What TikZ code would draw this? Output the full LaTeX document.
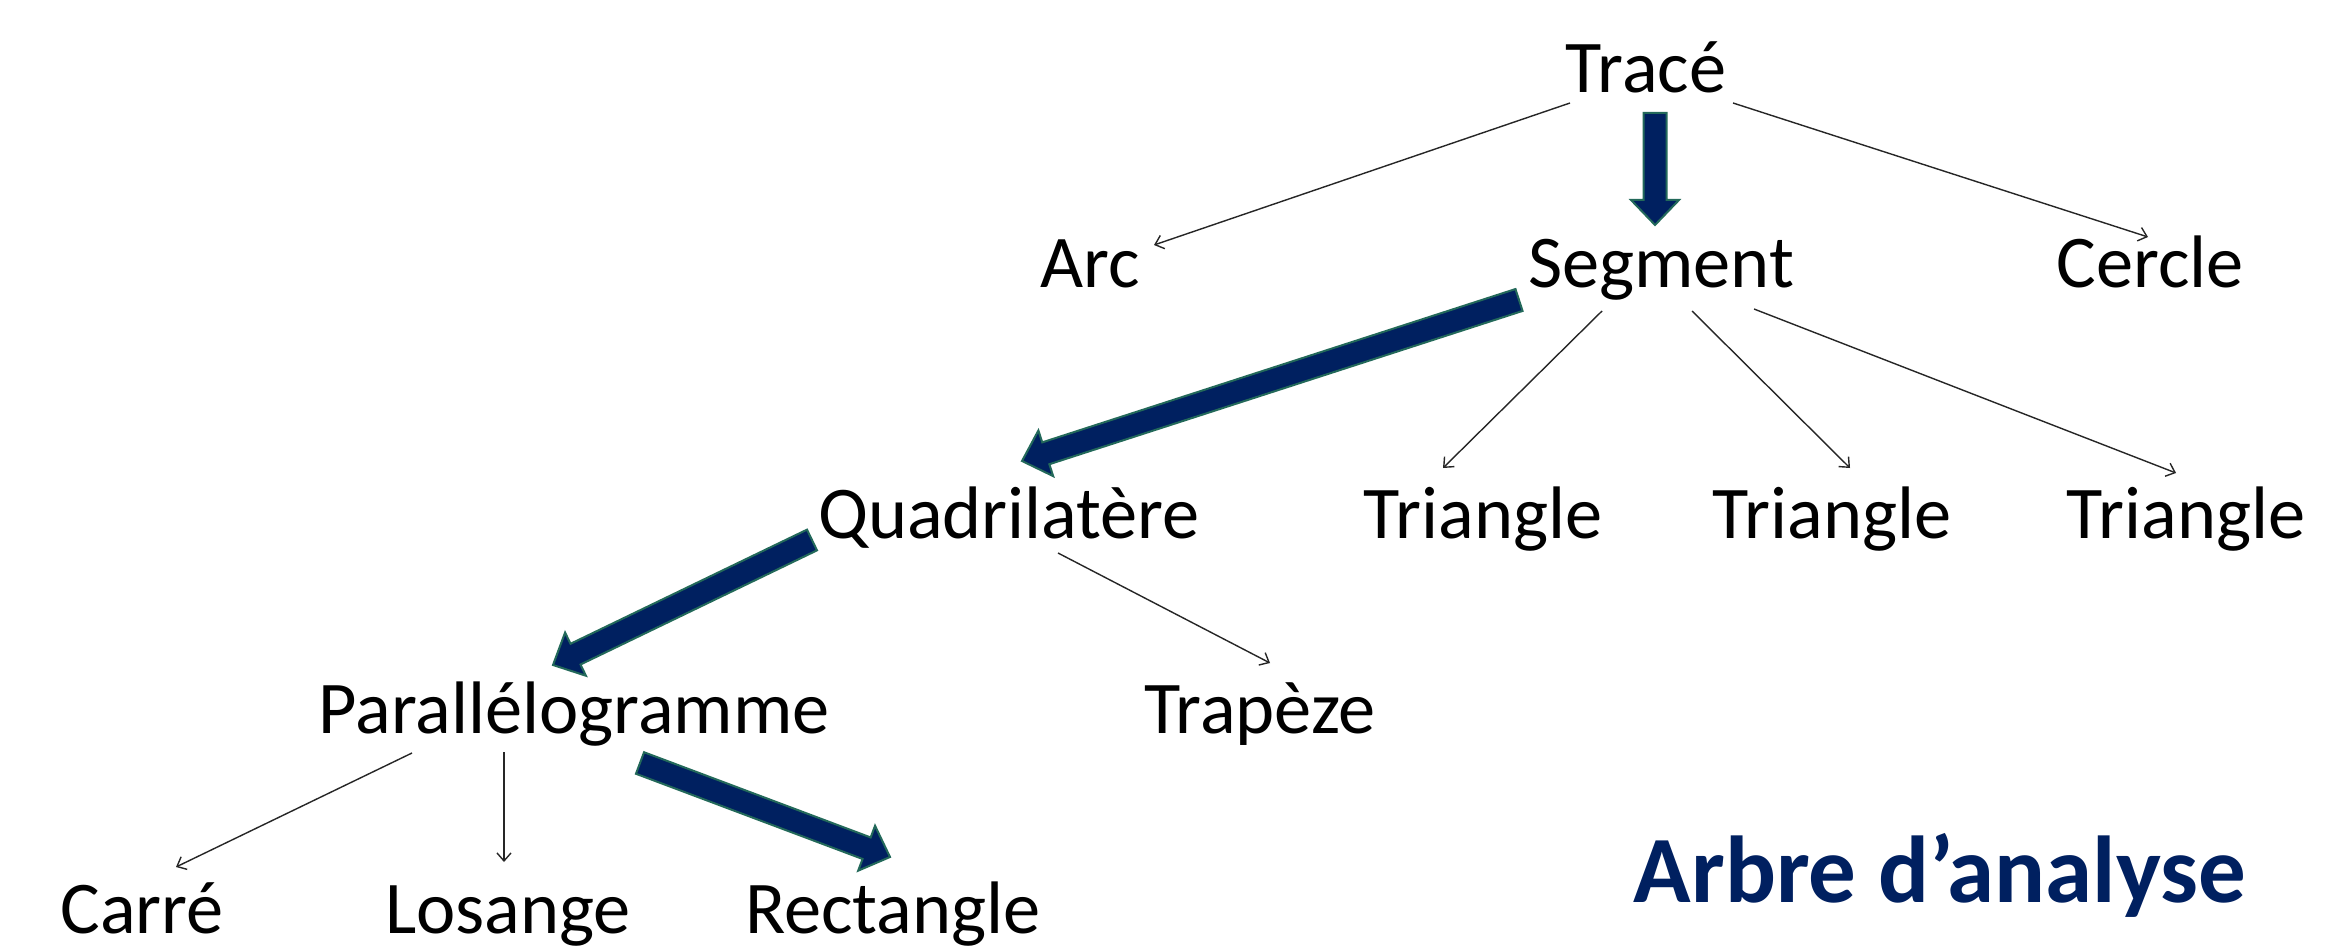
\documentclass[tikz,border=0pt]{standalone}
\usepackage{fontspec}
\setmainfont{Carlito}
\usetikzlibrary{calc,arrows.meta}
\definecolor{navy}{HTML}{002060}
\definecolor{edgegreen}{HTML}{23695A}
\newcommand\blkarrow[2]{%
  \coordinate (bH) at ($(#2)!12.5pt!(#1)$);
  \draw[blk] ($(#1)!5.75pt!90:(#2)$) -- ($(bH)!5.75pt!90:(#2)$) -- ($(bH)!12pt!90:(#2)$) -- (#2)
    -- ($(bH)!12pt!-90:(#2)$) -- ($(bH)!5.75pt!-90:(#2)$) -- ($(#1)!5.75pt!-90:(#2)$) -- cycle;}
\begin{document}
\begin{tikzpicture}[x=0.5pt,y=-0.5pt,
  lbl/.style={inner sep=0pt,anchor=base,font=\fontsize{37.2}{44}\selectfont},
  lnk/.style={draw=black!85,line width=0.7pt,-{Straight Barb[length=4pt,width=7pt]}},
  blk/.style={fill=navy,draw=edgegreen,line width=1pt,line join=miter}]
\useasboundingbox[fill=white] (0,0) rectangle (2348,952);

\node[lbl] (trace) at (1646,93) {Tracé};
\node[lbl] (arc) at (1090,287) {Arc};
\node[lbl] (segment) at (1661,287) {Segment};
\node[lbl] (cercle) at (2150,287) {Cercle};
\node[lbl] (quad) at (1009,538) {Quadrilatère};
\node[lbl] (tri1) at (1483,538) {Triangle};
\node[lbl] (tri2) at (1832,538) {Triangle};
\node[lbl] (tri3) at (2186,538) {Triangle};
\node[lbl] (para) at (574,733) {Parallélogramme};
\node[lbl] (trap) at (1260,733) {Trapèze};
\node[lbl] (carre) at (142,933) {Carré};
\node[lbl] (losange) at (508,933) {Losange};
\node[lbl] (rect) at (893,933) {Rectangle};
\node[inner sep=0pt,anchor=base,text=navy,font=\fontsize{47.5}{56}\selectfont\bfseries] (title) at (1940,902) {Arbre d’analyse};

% thin connectors
\draw[lnk] ($(trace.base)+(-76,10)$) -- ($(arc.base)+(64,-42)$);
\draw[lnk] ($(trace.base)+(87,10)$) -- ($(cercle.base)+(-2,-50)$);
\draw[lnk] ($(segment.base)+(-59,24)$) -- ($(tri1.base)+(-40,-70)$);
\draw[lnk] ($(segment.base)+(31,24)$) -- ($(tri2.base)+(18,-70)$);
\draw[lnk] ($(segment.base)+(93,22)$) -- ($(tri3.base)+(-10,-65)$);
\draw[lnk] ($(quad.base)+(49,15)$) -- ($(trap.base)+(10,-70)$);
\draw[lnk] ($(para.base)+(-162,20)$) -- ($(carre.base)+(34,-66)$);
\draw[lnk] ($(para.base)+(-70,19)$) -- ($(losange.base)+(-4,-71)$);

% thick arrows
\coordinate (a1) at ($(trace.base)+(9,20)$);
\coordinate (b1) at ($(segment.base)+(-6,-62)$);
\coordinate (a2) at ($(segment.base)+(-142,13)$);
\coordinate (b2) at ($(quad.base)+(13,-77)$);
\coordinate (a3) at ($(quad.base)+(-197,2)$);
\coordinate (b3) at ($(para.base)+(-21,-68)$);
\coordinate (a4) at ($(para.base)+(66,30)$);
\coordinate (b4) at ($(rect.base)+(-3,-76)$);
\blkarrow{a1}{b1}
\blkarrow{a2}{b2}
\blkarrow{a3}{b3}
\blkarrow{a4}{b4}
\end{tikzpicture}
\end{document}
